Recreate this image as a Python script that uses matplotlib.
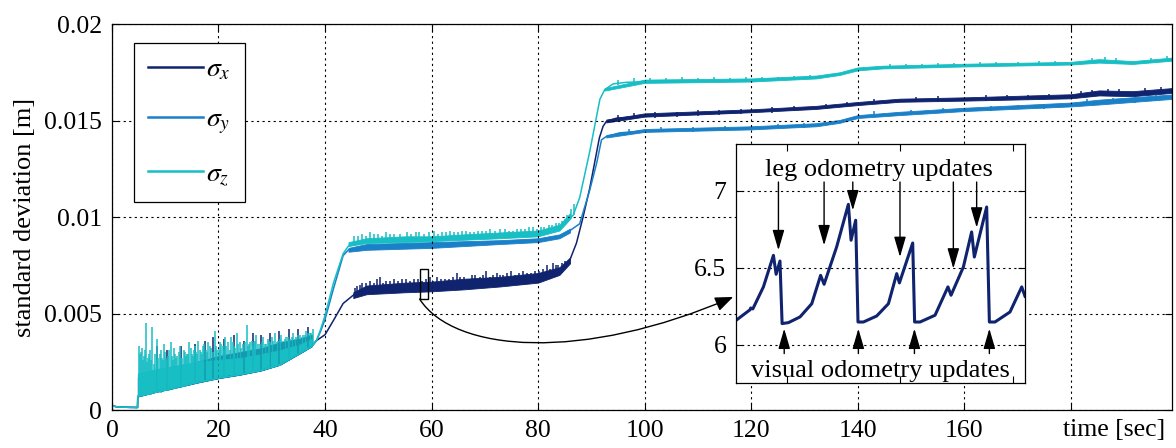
import numpy as np
import matplotlib
matplotlib.use('Agg')
import matplotlib.pyplot as plt
from matplotlib.patches import Rectangle, FancyArrowPatch
from matplotlib.path import Path
from matplotlib.lines import Line2D
from matplotlib.transforms import IdentityTransform

plt.rcParams['font.family'] = ['Liberation Serif', 'DejaVu Serif']
plt.rcParams['mathtext.fontset'] = 'stix'

c_x = '#10236e'
c_y = '#1a80c8'
c_z = '#17bec4'

# ---- main curves (centre line knots) ----
t_x = [0, 1, 3, 4.8, 4.85, 8, 12, 16, 20, 24, 28, 31.5, 35.3, 37.5, 38.4, 40, 41.6, 43.4, 45.3, 47.8,
       60, 72.8, 80, 84, 86, 87.2, 88.4, 89.7, 91.5, 92.2, 92.8, 94.7, 100, 117.8, 120, 132.2, 140,
       147.8, 160, 180, 185.3, 191.6, 199]
s_x = [0.00022, 0.00016, 0.00014, 0.00013, 0.0007, 0.00092, 0.00116, 0.00142, 0.00165, 0.00183,
       0.00205, 0.00234, 0.00294, 0.0033, 0.0036, 0.0039, 0.00465, 0.00552, 0.00595, 0.0062,
       0.0064, 0.00665, 0.0068, 0.0072, 0.0078, 0.00865, 0.00995, 0.0115, 0.0141, 0.0147,
       0.01495, 0.01512, 0.01524, 0.01542, 0.01547, 0.01564, 0.01585, 0.01602, 0.01608, 0.01622,
       0.01639, 0.01634, 0.01651]

t_y = [0, 1, 3, 4.8, 4.85, 8, 12, 16, 20, 24, 28, 31.5, 35.3, 37.5, 38.4, 39.2, 40, 41.6, 43.4, 44.4,
       47.8, 60, 72.8, 80, 84, 86, 87.8, 89.7, 91.0, 91.9, 92.8, 95.3, 100, 117.8, 120, 132.2, 136.6,
       140, 147.8, 160, 180, 185.3, 199]
s_y = [0.00022, 0.00016, 0.00014, 0.00013, 0.0007, 0.00092, 0.00116, 0.00142, 0.00165, 0.00183,
       0.00205, 0.00234, 0.00294, 0.0033, 0.0036, 0.0041, 0.0047, 0.0063, 0.0080, 0.0083,
       0.0085, 0.00855, 0.0087, 0.0088, 0.0090, 0.0093, 0.00965, 0.0114, 0.0128, 0.0140,
       0.01417, 0.01436, 0.01446, 0.01456, 0.01459, 0.01475, 0.01493, 0.01518, 0.01533, 0.01554,
       0.0158, 0.01592, 0.0162]

t_z = [0, 1, 3, 4.8, 4.85, 8, 12, 16, 20, 24, 28, 31.5, 35.3, 37.5, 38.4, 39.2, 40, 41.6, 43.4, 44.4,
       47.8, 60, 72.8, 80, 84, 86.6, 87.8, 89.7, 91.6, 92.5, 94.1, 96.6, 100, 117.8, 132.2, 136.6,
       140, 144.7, 160, 180, 185.3, 191.6, 199]
s_z = [0.00022, 0.00016, 0.00014, 0.00013, 0.0007, 0.00092, 0.00116, 0.00142, 0.00165, 0.00183,
       0.00205, 0.00234, 0.00294, 0.0033, 0.0036, 0.0042, 0.0049, 0.0066, 0.0081, 0.0085,
       0.0087, 0.0088, 0.00895, 0.0091, 0.0094, 0.0101, 0.0110, 0.0134, 0.0161, 0.0166,
       0.0169, 0.01698, 0.0170, 0.01705, 0.01722, 0.0174, 0.01765, 0.01774, 0.01784, 0.01794,
       0.01805, 0.01797, 0.01814]

# ---- noise bands: start-up phase (5-38 s) ----
t_a = [4.85, 8, 12, 16, 20, 24, 28, 31.5, 35.3, 37.5]
floor_a = [0.0007, 0.00092, 0.00116, 0.00142, 0.00165, 0.00183, 0.00205, 0.00234, 0.00294, 0.0033]
top_xa = [0.0017, 0.0019, 0.0022, 0.0025, 0.0028, 0.0030, 0.0032, 0.0035, 0.0037, 0.0039]
top_za = [0.0019, 0.0021, 0.0023, 0.0025, 0.0026, 0.0027, 0.0029, 0.0031, 0.0034, 0.0037]

# ---- noise bands: first plateau (44-86 s) ----
t_xb = [45.3, 47.8, 55, 60, 66, 72.8, 80, 84, 86]
lo_xb = [0.0058, 0.0060, 0.0061, 0.00615, 0.00625, 0.0064, 0.0066, 0.0070, 0.0076]
hi_xb = [0.0061, 0.00645, 0.0066, 0.00665, 0.0068, 0.0069, 0.0071, 0.0074, 0.0079]
t_yb = [44.4, 47.8, 60, 72.8, 80, 84, 86]
lo_yb = [0.0082, 0.0083, 0.0084, 0.0086, 0.0087, 0.0089, 0.0092]
hi_yb = [0.0084, 0.0086, 0.0087, 0.0088, 0.0089, 0.0091, 0.0094]
t_zb = [44.4, 47.8, 55, 60, 66, 72.8, 80, 84, 86]
lo_zb = [0.0085, 0.00865, 0.0087, 0.00875, 0.00882, 0.0089, 0.0090, 0.0093, 0.0099]
hi_zb = [0.0087, 0.0089, 0.0090, 0.0090, 0.0091, 0.0092, 0.0093, 0.0096, 0.0102]

# ---- noise bands: second plateau (92-199 s) ----
t_xc = [92.8, 100, 120, 132.2, 140, 147.8, 160, 180, 185.3, 191.6, 199]
lo_xc = [0.0149, 0.0152, 0.01543, 0.0156, 0.0158, 0.01597, 0.01603, 0.01615, 0.0163, 0.01626, 0.01643]
hi_xc = [0.01505, 0.01537, 0.01558, 0.01576, 0.01596, 0.01613, 0.0162, 0.01636, 0.01656, 0.01652, 0.01668]
t_yc = [92.8, 100, 120, 132.2, 136.6, 140, 147.8, 160, 180, 185.3, 199]
lo_yc = [0.01412, 0.01441, 0.01454, 0.0147, 0.01488, 0.01513, 0.01528, 0.01549, 0.01573, 0.01583, 0.01612]
hi_yc = [0.01425, 0.01456, 0.0147, 0.01486, 0.01503, 0.01528, 0.01545, 0.01566, 0.01593, 0.01608, 0.01635]
t_zc = [92.5, 100, 120, 132.2, 136.6, 140, 144.7, 160, 180, 185.3, 191.6, 199]
lo_zc = [0.01655, 0.01695, 0.01702, 0.01718, 0.01736, 0.0176, 0.0177, 0.0178, 0.0179, 0.018, 0.01793, 0.0181]
hi_zc = [0.01668, 0.01712, 0.01718, 0.01733, 0.0175, 0.01775, 0.01784, 0.01794, 0.01804, 0.01818, 0.01808, 0.01826]

# ---- individual spikes (time, bottom, top) ----
spk_za = [(5.1, .0007, .0033), (5.4, .0007, .0030), (5.6, .00072, .0032), (6.0, .00075, .0028),
          (6.4, .00078, .0045), (6.8, .0008, .0027), (7.2, .00082, .0031), (7.6, .00085, .0043),
          (7.9, .00087, .0024), (8.4, .0009, .0037), (8.7, .00092, .0027), (9.0, .00095, .0029),
          (9.4, .00097, .0027), (9.8, .001, .0034), (10.2, .00102, .0027), (10.6, .00105, .0028),
          (11.0, .00108, .0035), (11.4, .0011, .0026), (11.8, .00113, .0029), (12.3, .00117, .0028),
          (12.8, .0012, .0033), (13.2, .00123, .0027), (13.7, .00127, .0030), (14.1, .0013, .0029),
          (14.5, .00133, .0035), (15.0, .00137, .0029), (15.4, .0014, .0031), (15.8, .00143, .0030),
          (16.2, .00145, .0036), (16.7, .00148, .0030), (17.1, .0015, .0033), (17.6, .00153, .0031),
          (18.1, .00156, .0035), (18.6, .00159, .0032), (19.3, .00162, .0041), (19.8, .00164, .0031),
          (20.3, .00167, .0035), (20.8, .00169, .0033), (21.2, .0017, .0038), (21.8, .00173, .0035),
          (22.4, .00176, .0038), (22.9, .00178, .0033), (23.4, .0018, .0040), (24.0, .00183, .0035),
          (24.6, .00186, .0034), (25.3, .00188, .0044), (25.8, .0019, .0034), (26.2, .00192, .0036),
          (26.7, .00195, .0035), (27.1, .00197, .0039), (27.8, .002, .0034), (28.4, .00206, .0038),
          (29.0, .00212, .0034), (29.5, .00217, .0036), (30.0, .0022, .0038), (30.6, .00227, .0040),
          (31.2, .00232, .0036), (31.8, .00238, .0039), (32.4, .00247, .0037), (33.0, .00258, .0038),
          (33.5, .00265, .0037), (34.0, .00275, .0040), (34.6, .00285, .0038), (35.3, .00294, .0039),
          (35.9, .00303, .0039), (36.5, .0031, .0041), (37.1, .0032, .0040), (37.75, .0034, .0042)]
spk_za2 = [(5.3, .0007, .0029), (5.8, .0007, .0026), (6.2, .0008, .0031), (6.6, .0008, .0025),
           (7.0, .0008, .0029), (7.4, .0008, .0026), (8.1, .0009, .0029), (8.55, .0009, .0026),
           (9.2, .0009, .0031), (9.6, .001, .0026), (10.0, .001, .0030), (10.4, .001, .0026),
           (10.8, .001, .0031), (11.2, .0011, .0028), (11.6, .0011, .0032), (12.0, .0011, .0027),
           (12.55, .0012, .0030), (13.0, .0012, .0027), (13.45, .0012, .0031), (13.9, .0013, .0028),
           (14.3, .0013, .0029), (14.75, .0013, .0032), (15.2, .0014, .0028), (15.6, .0014, .0033),
           (16.0, .0014, .0029), (16.45, .0015, .0031), (16.9, .0015, .0029), (17.35, .0015, .0034),
           (17.85, .0015, .0030), (18.35, .0016, .0033), (18.9, .0016, .0030), (19.55, .0016, .0033),
           (20.05, .0017, .0031), (20.55, .0017, .0034), (21.0, .0017, .0031), (21.5, .0017, .0033),
           (22.1, .0018, .0031), (22.65, .0018, .0035), (23.15, .0018, .0032), (23.7, .0018, .0034),
           (24.3, .0018, .0032), (24.95, .0019, .0035), (25.55, .0019, .0033), (26.0, .0019, .0035),
           (26.45, .0019, .0033), (26.9, .002, .0036), (27.45, .002, .0034), (28.1, .002, .0035),
           (28.7, .0021, .0034), (29.25, .0021, .0037), (29.75, .0022, .0035), (30.3, .0022, .0036),
           (30.9, .0023, .0035), (31.5, .0023, .0037), (32.1, .0024, .0036), (32.7, .0025, .0038),
           (33.25, .0026, .0036), (33.75, .0027, .0038), (34.3, .0028, .0037), (34.95, .0029, .0039),
           (35.6, .003, .0038), (36.2, .0031, .0039), (36.8, .0031, .0040), (37.4, .0033, .0040)]
spk_xa = [(8.5, .001, .0033), (10.3, .001, .0031), (13.0, .0012, .0033), (15.5, .0014, .0034),
          (17.5, .0015, .0036), (19.0, .0016, .0038), (21.0, .0017, .0037), (23.0, .0018, .0039),
          (24.8, .0019, .0036), (26.5, .0019, .0040), (28.0, .002, .0039), (29.7, .0022, .0040),
          (31.4, .0023, .0041), (33.2, .0026, .0042), (35.0, .0029, .0042), (36.8, .0031, .0043)]
spk_xb = [(46.0, .0059, .0064), (47.0, .006, .0066), (48.5, .0061, .0067), (50.3, .0061, .0069),
          (51.5, .0061, .0067), (53.0, .0061, .0068), (54.5, .0061, .0068), (56.0, .0062, .0067),
          (57.5, .0062, .0068), (59.0, .0062, .0068), (61.0, .0062, .0069), (62.5, .0062, .0068),
          (64.0, .0063, .0069), (64.7, .0063, .0071), (66.0, .0063, .0069), (67.5, .0063, .0070),
          (69.0, .0064, .0069), (70.3, .0064, .0072), (72.2, .0064, .0071), (73.5, .0065, .0070),
          (75.0, .0065, .0072), (76.5, .0065, .0071), (78.0, .0066, .0071), (79.5, .0066, .0072),
          (81.0, .0067, .0073), (81.6, .0068, .0075), (82.8, .0069, .0076), (83.8, .0070, .0075),
          (85.0, .0073, .0077)]
spk_xb2 = [(45.7, .0058, .0063), (46.5, .0059, .0065), (47.6, .006, .0066), (49.2, .0061, .0066),
           (49.8, .0061, .0068), (50.9, .0061, .0066), (52.2, .0061, .0067), (53.7, .0061, .0067),
           (55.2, .0061, .0068), (56.7, .0062, .0068), (58.2, .0062, .0067), (59.7, .0062, .0069),
           (60.3, .0062, .0067), (61.8, .0062, .0068), (63.3, .0063, .0068), (65.3, .0063, .0069),
           (66.7, .0063, .0068), (68.2, .0063, .0070), (69.7, .0064, .0070), (71.0, .0064, .0069),
           (71.6, .0064, .0070), (72.9, .0064, .0070), (74.2, .0065, .0071), (75.7, .0065, .0070),
           (77.2, .0065, .0072), (78.7, .0066, .0071), (80.2, .0066, .0072), (82.2, .0068, .0073),
           (83.3, .0069, .0075), (84.4, .0071, .0076)]
spk_zb = [(45.5, .0086, .0090), (47.0, .0087, .0091), (48.5, .0087, .0092), (50.0, .0087, .0091),
          (51.5, .0087, .0092), (53.0, .0087, .0091), (55.3, .0087, .0092), (57.0, .0088, .0092),
          (58.5, .0088, .0091), (60.5, .0088, .0093), (62.0, .0088, .0092), (63.4, .0088, .0093),
          (65.0, .0088, .0092), (66.5, .0089, .0093), (68.0, .0089, .0092), (69.5, .0089, .0093),
          (71.0, .0089, .0094), (72.8, .0089, .0094), (74.5, .009, .0093), (76.0, .009, .0094),
          (77.5, .009, .0094), (79.0, .0091, .0095), (80.5, .0091, .0095), (82.0, .0092, .0096),
          (83.4, .0093, .0097), (84.5, .0095, .0098), (85.5, .0097, .0101), (86.8, .0101, .0107)]
spk_zb2 = [(46.2, .0086, .0090), (47.7, .0087, .0090), (49.2, .0087, .0091), (50.7, .0087, .0090),
           (52.2, .0087, .0091), (54.0, .0087, .0091), (56.2, .0088, .0091), (57.7, .0088, .0092),
           (59.5, .0088, .0092), (61.2, .0088, .0091), (62.7, .0088, .0092), (64.2, .0088, .0092),
           (65.8, .0088, .0093), (67.3, .0089, .0092), (68.8, .0089, .0093), (70.2, .0089, .0093),
           (71.9, .0089, .0093), (73.7, .009, .0094), (75.2, .009, .0093), (76.8, .009, .0094),
           (78.3, .009, .0095), (79.8, .0091, .0094), (81.2, .0091, .0095), (82.7, .0092, .0096),
           (84.0, .0094, .0097), (85.0, .0096, .0099), (86.2, .0099, .0104)]
spk_xc = [(95, .01505, .0153), (98, .0151, .01538), (102, .01515, .01542), (106, .0152, .01545),
          (110, .01525, .01552), (114, .0153, .01555), (118, .01535, .0156), (124, .0154, .01568),
          (128, .01548, .01574), (134, .01562, .01588), (138, .01572, .01598), (143, .01585, .0161),
          (151, .01595, .01622), (155, .01598, .01625), (164, .01601, .0163), (168, .01604, .0163),
          (172, .01606, .01632), (176, .0161, .01636), (182, .0162, .01655), (184, .0162, .0166),
          (187, .0163, .01665), (189, .0163, .01662), (194, .0163, .01668), (197, .0164, .01675)]
spk_yc = [(97, .0143, .01458), (103, .0144, .01466), (109, .0144, .01468), (115, .0145, .01472),
          (125, .0146, .01482), (130, .0146, .01488), (143, .0152, .01548), (150, .0153, .01555),
          (156, .0154, .01565), (165, .0155, .01575), (170, .0156, .01582), (175, .0156, .01588),
          (183, .0158, .0161), (188, .0159, .01618), (192, .0159, .0162), (196, .016, .01632)]
spk_zc = [(95, .01685, .01712), (98, .0169, .0172), (101, .01698, .0172), (104, .017, .01722),
          (107, .017, .01725), (110, .017, .0172), (113, .01702, .01724), (116, .01702, .01722),
          (119, .01702, .01724), (122, .01705, .01725), (125, .01708, .01726), (128, .01712, .01732),
          (131, .01716, .01735), (146, .01772, .01792), (149, .01774, .01795), (152, .01776, .01794),
          (155, .01778, .01798), (158, .0178, .01798), (163, .01782, .01802), (166, .01784, .01803),
          (170, .01786, .01804), (174, .01788, .01806), (177, .0179, .01808), (184, .018, .01826),
          (186.5, .018, .0183), (188.5, .018, .01826), (195, .01802, .01822), (198, .01808, .01832)]

# ---- zoomed detail (sigma_x around t = 58 s, in mm) ----
t_zoom = [57.750, 57.823, 57.826, 57.837, 57.892, 57.944, 57.958, 57.978, 57.989, 58.022, 58.082,
          58.143, 58.189, 58.207, 58.272, 58.333, 58.347, 58.371, 58.383, 58.411, 58.480, 58.541,
          58.584, 58.598, 58.667, 58.677, 58.705, 58.783, 58.850, 58.866, 58.930, 58.973, 58.987,
          59.051, 59.065, 59.094, 59.172, 59.233, 59.250]
v_zoom = [6.160, 6.229, 6.240, 6.234, 6.377, 6.582, 6.459, 6.545, 6.139, 6.145, 6.182,
          6.268, 6.452, 6.394, 6.636, 6.913, 6.680, 6.810, 6.149, 6.149, 6.188, 6.268,
          6.463, 6.403, 6.662, 6.149, 6.149, 6.193, 6.377, 6.323, 6.506, 6.734, 6.571,
          6.896, 6.149, 6.149, 6.214, 6.377, 6.316]
leg_t = [57.970, 58.207, 58.356, 58.601, 58.878, 58.999]
leg_tip = [6.615, 6.647, 6.874, 6.571, 6.496, 6.762]
vo_t = [58.000, 58.385, 58.676, 59.065]

fig = plt.figure(figsize=(11.76, 4.48), dpi=100)
ax = fig.add_axes([0.0952, 0.0848, 0.9014, 0.8616])

grid_kw = dict(color='k', linestyle=(0, (2, 3)), linewidth=0.8)


def draw_series(color, t, s, bands, spikes):
    for tb, lo, hi in bands:
        ax.fill_between(tb, lo, hi, color=color, linewidth=0.6, edgecolor=color)
    for spk in spikes:
        a = np.array(spk)
        ax.vlines(a[:, 0], a[:, 1], a[:, 2], color=color, linewidth=1.1)
    ax.plot(t, s, color=color, linewidth=1.1)


draw_series(c_x, t_x, s_x,
            [(t_a, floor_a, top_xa), (t_xb, lo_xb, hi_xb), (t_xc, lo_xc, hi_xc)],
            [spk_xa, spk_xb, spk_xb2, spk_xc])
draw_series(c_y, t_y, s_y, [(t_yb, lo_yb, hi_yb), (t_yc, lo_yc, hi_yc)], [spk_yc])
draw_series(c_z, t_z, s_z,
            [(t_a, floor_a, top_za), (t_zb, lo_zb, hi_zb), (t_zc, lo_zc, hi_zc)],
            [spk_za, spk_za2, spk_zb, spk_zb2, spk_zc])

ax.set_xlim(0, 199)
ax.set_ylim(0, 0.02)
ax.set_xticks(np.arange(0, 181, 20))
ax.set_xticklabels([str(v) for v in range(0, 161, 20)] + [''])
ax.set_yticks([0, 0.005, 0.01, 0.015, 0.02])
ax.set_yticklabels(['0', '0.005', '0.01', '0.015', '0.02'])
ax.tick_params(direction='in', length=5, top=True, right=True, labelsize=18.5, pad=7)
ax.grid(True, **grid_kw)
for sp in ax.spines.values():
    sp.set_linewidth(0.9)
ax.set_ylabel('standard deviation [m]', fontsize=19, labelpad=6)
ax.set_xlabel('time [sec]', fontsize=18.5, ha='left', va='top')
ax.xaxis.set_label_coords(0.8972, -0.022)

# box marking the zoomed window
ax.add_patch(Rectangle((57.75, 0.00575), 1.5, 0.00155, fill=False, edgecolor='k', linewidth=1.0, zorder=5))

handles = [Line2D([], [], color=c, linewidth=1.8) for c in (c_x, c_y, c_z)]
leg = ax.legend(handles, [r'$\sigma_x$', r'$\sigma_y$', r'$\sigma_z$'], loc='upper left',
                bbox_to_anchor=(0.0208, 0.9508), borderaxespad=0, fontsize=20, handlelength=2.0,
                handletextpad=0.1, labelspacing=0.9, borderpad=0.5, fancybox=False,
                edgecolor='k', framealpha=1)
leg.get_frame().set_linewidth(0.9)

# ---- inset ----
axin = fig.add_axes([0.6259, 0.1451, 0.2457, 0.5335])
axin.set_zorder(3)
axin.plot(t_zoom, v_zoom, color=c_x, linewidth=2.2)
axin.set_xlim(57.75, 59.25)
axin.set_ylim(5.753, 7.305)
axin.set_xticks([58.015, 58.601, 59.187])
axin.set_xticklabels([])
axin.set_yticks([6, 6.5, 7])
axin.set_yticklabels(['6', '6.5', '7'])
axin.tick_params(direction='in', length=5, top=True, right=True, labelsize=18.5, pad=7)
axin.yaxis.grid(True, **grid_kw)
for sp in axin.spines.values():
    sp.set_linewidth(0.9)

arrow_kw = dict(arrowstyle='-|>,head_length=0.62,head_width=0.18', mutation_scale=20,
                color='k', linewidth=1.0, shrinkA=0, shrinkB=0)
for tt, tip in zip(leg_t, leg_tip):
    axin.annotate('', xy=(tt, tip), xytext=(tt, 7.058), arrowprops=arrow_kw)
for tt in vo_t:
    axin.annotate('', xy=(tt, 6.106), xytext=(tt, 5.944), arrowprops=arrow_kw)
axin.text(58.49, 7.134, 'leg odometry updates', fontsize=19, ha='center', va='center')
axin.text(58.50, 5.83, 'visual odometry updates', fontsize=19, ha='center', va='center')

# curved connector from the box to the inset
p0 = ax.transData.transform((57.75, 0.00575))
p3 = axin.transAxes.transform((-0.01, 0.36))
path = Path([p0, p0 + [35, -54], p3 + [-150, -65], p3],
            [Path.MOVETO, Path.CURVE4, Path.CURVE4, Path.CURVE4])
conn = FancyArrowPatch(path=path, arrowstyle='-|>,head_length=0.55,head_width=0.22',
                       mutation_scale=20, color='k', linewidth=1.0, transform=IdentityTransform(),
                       zorder=6)
fig.add_artist(conn)

fig.savefig('out.png', dpi=100)
